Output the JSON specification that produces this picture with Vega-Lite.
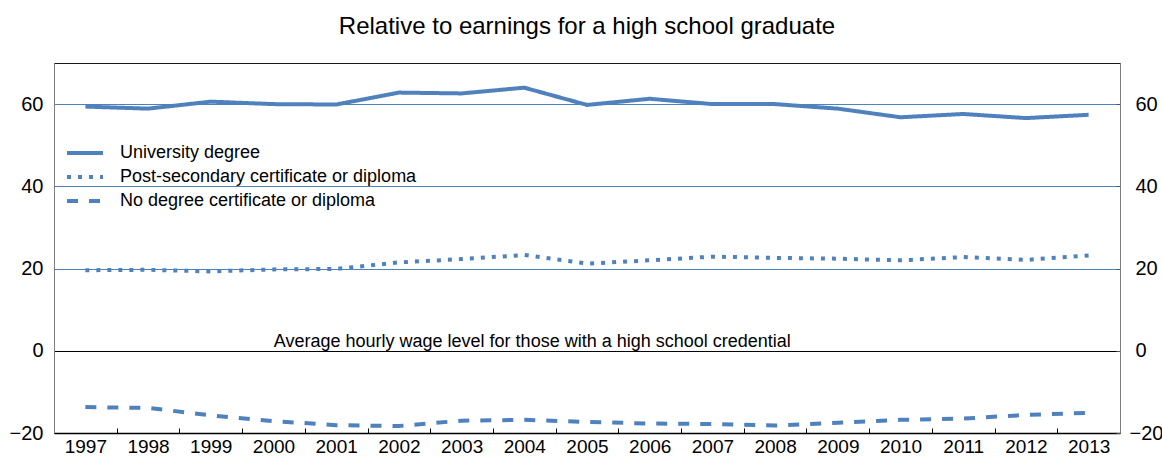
{
  "$schema": "https://vega.github.io/schema/vega-lite/v6.json",
  "width": 1066,
  "height": 370,
  "autosize": "none",
  "padding": {"left": 54, "top": 63, "right": 42, "bottom": 24},
  "background": "white",
  "title": {"text": "Relative to earnings for a high school graduate", "fontSize": 24, "fontWeight": "normal", "font": "Liberation Sans", "anchor": "middle", "offset": 5, "baseline": "alphabetic", "color": "#000000"},
  "config": {"view": {"stroke": "#1a1a1a", "strokeWidth": 1}, "font": "Liberation Sans"},
  "data": {"values": [
    {"year": 1997, "series": "University degree", "value": 59.4},
    {"year": 1998, "series": "University degree", "value": 58.9},
    {"year": 1999, "series": "University degree", "value": 60.6},
    {"year": 2000, "series": "University degree", "value": 60.0},
    {"year": 2001, "series": "University degree", "value": 59.9},
    {"year": 2002, "series": "University degree", "value": 62.8},
    {"year": 2003, "series": "University degree", "value": 62.6},
    {"year": 2004, "series": "University degree", "value": 64.0},
    {"year": 2005, "series": "University degree", "value": 59.8},
    {"year": 2006, "series": "University degree", "value": 61.3},
    {"year": 2007, "series": "University degree", "value": 60.0},
    {"year": 2008, "series": "University degree", "value": 60.0},
    {"year": 2009, "series": "University degree", "value": 58.9},
    {"year": 2010, "series": "University degree", "value": 56.8},
    {"year": 2011, "series": "University degree", "value": 57.6},
    {"year": 2012, "series": "University degree", "value": 56.6},
    {"year": 2013, "series": "University degree", "value": 57.4},
    {"year": 1997, "series": "Post-secondary certificate or diploma", "value": 19.6},
    {"year": 1998, "series": "Post-secondary certificate or diploma", "value": 19.7},
    {"year": 1999, "series": "Post-secondary certificate or diploma", "value": 19.3},
    {"year": 2000, "series": "Post-secondary certificate or diploma", "value": 19.8},
    {"year": 2001, "series": "Post-secondary certificate or diploma", "value": 19.9},
    {"year": 2002, "series": "Post-secondary certificate or diploma", "value": 21.5},
    {"year": 2003, "series": "Post-secondary certificate or diploma", "value": 22.3},
    {"year": 2004, "series": "Post-secondary certificate or diploma", "value": 23.3},
    {"year": 2005, "series": "Post-secondary certificate or diploma", "value": 21.2},
    {"year": 2006, "series": "Post-secondary certificate or diploma", "value": 22.0},
    {"year": 2007, "series": "Post-secondary certificate or diploma", "value": 22.9},
    {"year": 2008, "series": "Post-secondary certificate or diploma", "value": 22.6},
    {"year": 2009, "series": "Post-secondary certificate or diploma", "value": 22.4},
    {"year": 2010, "series": "Post-secondary certificate or diploma", "value": 22.0},
    {"year": 2011, "series": "Post-secondary certificate or diploma", "value": 22.8},
    {"year": 2012, "series": "Post-secondary certificate or diploma", "value": 22.1},
    {"year": 2013, "series": "Post-secondary certificate or diploma", "value": 23.2},
    {"year": 1997, "series": "No degree certificate or diploma", "value": -13.7},
    {"year": 1998, "series": "No degree certificate or diploma", "value": -13.9},
    {"year": 1999, "series": "No degree certificate or diploma", "value": -15.7},
    {"year": 2000, "series": "No degree certificate or diploma", "value": -17.1},
    {"year": 2001, "series": "No degree certificate or diploma", "value": -18.1},
    {"year": 2002, "series": "No degree certificate or diploma", "value": -18.3},
    {"year": 2003, "series": "No degree certificate or diploma", "value": -17.0},
    {"year": 2004, "series": "No degree certificate or diploma", "value": -16.8},
    {"year": 2005, "series": "No degree certificate or diploma", "value": -17.3},
    {"year": 2006, "series": "No degree certificate or diploma", "value": -17.7},
    {"year": 2007, "series": "No degree certificate or diploma", "value": -17.8},
    {"year": 2008, "series": "No degree certificate or diploma", "value": -18.2},
    {"year": 2009, "series": "No degree certificate or diploma", "value": -17.5},
    {"year": 2010, "series": "No degree certificate or diploma", "value": -16.8},
    {"year": 2011, "series": "No degree certificate or diploma", "value": -16.5},
    {"year": 2012, "series": "No degree certificate or diploma", "value": -15.6},
    {"year": 2013, "series": "No degree certificate or diploma", "value": -15.1}
  ]},
  "layer": [
    {
      "mark": {"type": "line", "strokeWidth": 4, "color": "#4f81bd", "strokeCap": "butt"},
      "encoding": {
        "x": {"field": "year", "type": "ordinal", "scale": {"type": "band", "paddingInner": 0, "paddingOuter": 0},
          "axis": {"title": null, "labelAngle": 0, "labelFontSize": 19, "labelColor": "#000000", "domainColor": "#000000", "domainWidth": 1.5, "tickColor": "#000000", "tickSize": -5, "tickBand": "extent", "labelPadding": 9, "grid": false}},
        "y": {"field": "value", "type": "quantitative", "scale": {"domain": [-20, 70], "nice": false, "zero": false},
          "axis": {"title": null, "values": [-20, 0, 20, 40, 60], "labelFontSize": 20, "labelColor": "#000000", "ticks": false, "labelPadding": 11, "domainColor": "#7f7f7f",
            "grid": true, "gridWidth": 1,
            "gridColor": {"condition": {"test": "datum.value === 0", "value": "#000000"}, "value": "#4f81bd"},
            "gridOpacity": {"condition": {"test": "datum.value === -20", "value": 0}, "value": 1}}},
        "strokeDash": {"field": "series", "type": "nominal",
          "scale": {"domain": ["University degree", "Post-secondary certificate or diploma", "No degree certificate or diploma"], "range": [[1, 0], [4, 7], [11, 11]]},
          "legend": {"title": null, "orient": "none", "legendX": 22, "legendY": 81, "symbolType": "M-3,0H3", "symbolSize": 144, "symbolStrokeWidth": 4, "symbolStrokeColor": "#4f81bd", "labelFontSize": 18, "labelColor": "#000000", "labelOffset": 26, "rowPadding": 6, "labelLimit": 500}}
      }
    },
    {
      "data": {"values": [{"note": "Average hourly wage level for those with a high school credential"}]},
      "mark": {"type": "text", "fontSize": 18, "color": "#000000", "baseline": "bottom", "align": "center", "dy": 0, "dx": 8},
      "encoding": {
        "x": {"datum": 2004, "type": "ordinal"},
        "y": {"datum": 0, "type": "quantitative", "scale": {"domain": [-20, 70], "nice": false, "zero": false},
          "axis": {"orient": "right", "title": null, "values": [-20, 0, 20, 40, 60], "labelFontSize": 20, "labelColor": "#000000", "tickSize": -4, "tickColor": "#555555",
            "labelPadding": {"condition": {"test": "datum.value === -20", "value": 13}, "value": 19},
            "domainColor": "#7f7f7f", "grid": false}},
        "text": {"field": "note", "type": "nominal"}
      }
    }
  ],
  "resolve": {"axis": {"y": "independent"}}
}
